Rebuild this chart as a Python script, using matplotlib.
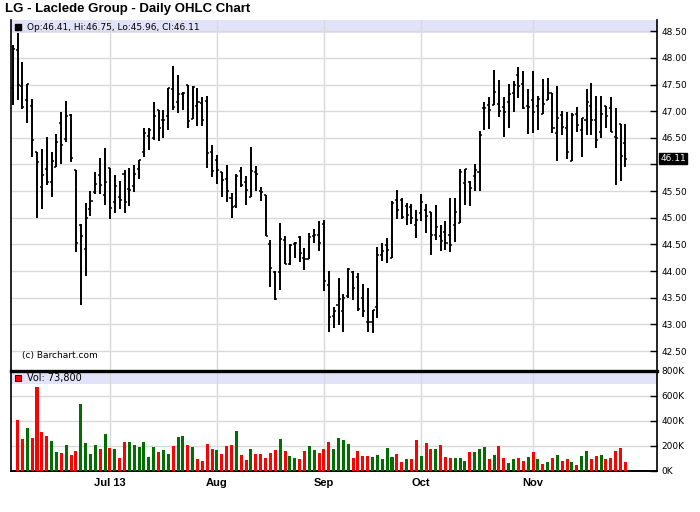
import numpy as np
import pandas as pd
import matplotlib
matplotlib.use("Agg")
import matplotlib.pyplot as plt

# trading days Jun 3 - Nov 29 2013 (NYSE holidays removed)
holidays = ["2013-07-04", "2013-09-02", "2013-11-28"]
dates = pd.bdate_range("2013-06-03", "2013-11-29")
dates = dates[~dates.isin(pd.to_datetime(holidays))]

opens = [47.44, 48.15, 47.48, 47.21, 47.10, 46.24, 45.58, 45.92, 45.68, 45.96,
         46.78, 46.48, 46.92, 45.89, 44.86, 44.42, 45.17, 45.49, 45.81, 45.43,
         45.94, 45.29, 45.39, 45.83, 45.54, 45.59, 45.91, 46.23, 46.54, 46.50,
         47.03, 46.84, 46.90, 47.41, 47.18, 47.33, 47.50, 46.86, 47.09, 47.16,
         47.20, 46.24, 46.08, 45.86, 45.72, 45.38, 45.23, 45.88, 45.67, 45.39,
         45.86, 45.50, 45.42, 44.51, 43.99, 43.98, 44.58, 44.14, 44.50, 44.63,
         44.25, 44.23, 44.65, 44.68, 44.88, 43.74, 43.16, 43.36, 43.26, 43.54,
         43.99, 43.89, 43.49, 43.04, 43.04, 43.32, 44.30, 44.49, 44.25, 45.34,
         45.34, 45.22, 45.21, 44.86, 45.08, 45.14, 45.11, 44.67, 44.66, 44.73,
         44.68, 44.86, 44.91, 45.66, 45.68, 45.79, 45.85, 47.06, 47.11, 47.11,
         47.13, 47.07, 47.17, 47.34, 47.68, 47.51, 47.10, 47.21, 47.10, 46.94,
         47.21, 47.34, 46.59, 46.93, 46.69, 46.06, 46.95, 46.65, 46.83, 47.09,
         46.83, 46.61, 47.10, 47.06, 46.52, 46.75, 46.41]
highs = [48.25, 48.47, 47.93, 47.51, 47.22, 46.24, 46.29, 46.51, 46.24, 46.58,
         46.98, 47.20, 46.95, 45.89, 44.89, 45.27, 45.50, 45.86, 46.13, 46.30,
         45.94, 45.81, 45.69, 45.89, 45.94, 45.99, 46.08, 46.68, 46.68, 47.17,
         47.03, 47.03, 47.44, 47.84, 47.68, 47.36, 47.50, 47.48, 47.44, 47.26,
         47.28, 46.36, 46.17, 45.86, 45.99, 45.46, 45.83, 45.95, 45.78, 46.33,
         45.97, 45.58, 45.42, 44.58, 44.00, 44.91, 44.66, 44.50, 44.55, 44.66,
         44.44, 44.71, 44.78, 44.93, 44.96, 44.01, 43.33, 43.87, 43.57, 44.06,
         44.01, 43.96, 43.76, 43.68, 43.27, 44.46, 44.52, 44.62, 45.31, 45.53,
         45.38, 45.27, 45.25, 45.14, 45.45, 45.25, 45.11, 45.24, 44.86, 44.93,
         45.37, 45.37, 45.91, 45.91, 45.69, 46.00, 46.63, 47.18, 47.26, 47.78,
         47.59, 47.26, 47.51, 47.57, 47.83, 47.76, 47.42, 47.76, 47.29, 47.61,
         47.63, 47.34, 47.48, 47.01, 46.99, 46.96, 47.08, 46.88, 47.41, 47.53,
         47.29, 47.28, 47.10, 47.26, 47.06, 46.76, 46.75]
lows = [47.11, 47.21, 47.04, 46.78, 46.14, 44.99, 45.16, 45.61, 45.39, 45.96,
        46.01, 46.42, 46.04, 44.36, 43.37, 43.91, 45.04, 45.44, 45.44, 45.24,
        44.98, 45.09, 45.16, 45.09, 45.22, 45.49, 45.73, 46.14, 46.28, 46.46,
        46.44, 46.50, 46.65, 47.03, 46.97, 47.03, 46.68, 46.86, 46.73, 46.73,
        45.94, 45.76, 45.63, 45.39, 45.29, 45.00, 45.19, 45.58, 45.24, 45.39,
        45.50, 45.31, 44.65, 43.71, 43.45, 43.65, 44.13, 44.11, 44.25, 44.17,
        44.02, 44.22, 44.53, 44.38, 43.63, 42.85, 42.93, 42.98, 42.86, 43.50,
        43.46, 43.25, 43.13, 42.86, 42.83, 43.11, 44.18, 44.16, 44.25, 44.97,
        44.98, 44.87, 44.89, 44.62, 44.93, 44.71, 44.31, 44.59, 44.38, 44.39,
        44.36, 44.54, 44.91, 45.24, 45.23, 45.51, 45.51, 46.64, 46.67, 47.11,
        46.89, 46.51, 46.69, 46.99, 47.24, 47.04, 46.58, 46.59, 46.64, 46.94,
        47.21, 46.59, 46.06, 46.56, 46.11, 46.06, 46.61, 46.14, 46.56, 46.56,
        46.30, 46.49, 46.69, 46.61, 45.61, 45.69, 45.96]
closes = [48.17, 47.49, 47.08, 47.51, 46.46, 46.05, 45.81, 45.68, 46.07, 46.43,
          46.37, 46.90, 46.13, 44.53, 44.66, 45.00, 45.32, 45.64, 45.62, 45.68,
          45.18, 45.60, 45.34, 45.30, 45.53, 45.83, 46.08, 46.59, 46.64, 46.91,
          46.68, 46.83, 47.44, 47.07, 47.33, 47.34, 46.81, 47.46, 47.18, 46.83,
          46.21, 45.87, 45.89, 45.71, 45.50, 45.21, 45.78, 45.62, 45.53, 45.88,
          45.82, 45.49, 44.65, 44.05, 43.48, 44.61, 44.13, 44.48, 44.52, 44.34,
          44.23, 44.64, 44.68, 44.52, 43.81, 43.13, 43.25, 43.47, 43.49, 44.04,
          43.68, 43.29, 43.26, 43.04, 43.27, 44.30, 44.37, 44.39, 45.27, 45.14,
          45.02, 45.05, 45.00, 44.95, 45.29, 45.03, 44.67, 44.83, 44.56, 44.52,
          44.48, 45.10, 45.86, 45.91, 45.55, 45.89, 46.56, 47.06, 47.02, 47.36,
          47.01, 46.98, 47.33, 47.50, 47.47, 47.06, 47.08, 46.99, 47.23, 47.13,
          47.35, 46.68, 46.87, 46.70, 46.24, 46.92, 46.74, 46.88, 47.18, 46.83,
          46.46, 46.94, 46.90, 46.61, 46.49, 46.16, 46.11]
# volume in thousands; first day has no volume bar on the chart
volume_k = [np.nan,
            408, 256, 344, 264, 675, 315, 280, 243, 152, 144,
            208, 128, 160, 536, 224, 136, 208, 176, 296, 184,
            176, 104, 232, 232, 208, 192, 232, 112, 192, 152,
            168, 136, 200, 272, 280, 208, 192, 96, 80, 216,
            176, 168, 136, 200, 208, 320, 128, 88, 176, 136,
            136, 104, 144, 168, 256, 160, 120, 104, 96, 160,
            200, 168, 144, 176, 232, 176, 264, 248, 216,
            104, 160, 120, 120, 112, 128, 96, 184, 112, 136,
            72, 96, 96, 248, 120, 224, 176, 176, 208, 112,
            104, 104, 104, 80, 152, 152, 176, 192, 96, 128,
            200, 104, 64, 96, 104, 80, 112, 152, 96, 56,
            72, 104, 128, 80, 96, 72, 48, 120, 160, 96,
            120, 128, 96, 104, 160, 184, 73.8]

x = np.arange(len(dates))
vol = np.array(volume_k) * 1000
cl = np.array(closes)
vol_colors = ['#006e00'] + ['#ff0000' if cl[i] < cl[i - 1] else '#006e00' for i in range(1, len(cl))]

months = pd.Series(dates.month)
month_idx = list(np.where(months.diff().fillna(1) != 0)[0])[1:]
month_labels = [dates[i].strftime('%b') for i in month_idx]
month_labels[0] = dates[month_idx[0]].strftime('%b %y')

grid_c = '#d9d9d9'
band_c = '#e2e2f9'
small = dict(family='DejaVu Sans', fontsize=6.5)

fig = plt.figure(figsize=(7, 5.12), dpi=100)
ax1 = fig.add_axes([0.015, 0.2754, 0.9236, 0.6855])
ax2 = fig.add_axes([0.015, 0.0801, 0.9236, 0.1953], sharex=ax1)

# price panel
ax1.axhspan(48.46, 48.75, color=band_c, zorder=0.2, lw=0)
ax1.vlines(x, lows, highs, color='black', lw=1.4, zorder=3)
ax1.hlines(opens, x - 0.42, x, color='black', lw=1.1, zorder=3)
ax1.hlines(closes, x, x + 0.42, color='black', lw=1.1, zorder=3)
ax1.set_xlim(-0.45, 132.5)
ax1.set_ylim(42.125, 48.71)
yt = np.arange(42.5, 48.51, 0.5)
ax1.set_yticks(yt)
ax1.set_yticklabels(['' if abs(v - closes[-1]) < 0.15 else f'{v:.2f}' for v in yt], **small)
ax1.yaxis.tick_right()
ax1.tick_params(axis='y', direction='in', length=5, pad=3, width=1)
ax1.set_xticks(month_idx)
ax1.tick_params(axis='x', length=0, labelbottom=False)
ax1.grid(color=grid_c, lw=1)
ax1.set_axisbelow(True)
ax1.spines['top'].set_visible(False)
ax1.spines['bottom'].set_visible(False)
for s in ['left', 'right']:
    ax1.spines[s].set_linewidth(1.2)

ax1.text(1.005, closes[-1], f'{closes[-1]:.2f}', transform=ax1.get_yaxis_transform(),
         color='white', va='center', ha='left',
         bbox=dict(boxstyle='square,pad=0.12', fc='black', ec='black'), **small)
ax1.plot([0.0116], [0.98], marker='s', ms=5, color='black', transform=ax1.transAxes, clip_on=False)
ax1.text(0.0255, 0.98, f'Op:{opens[-1]:.2f}, Hi:{highs[-1]:.2f}, Lo:{lows[-1]:.2f}, Cl:{closes[-1]:.2f}',
         transform=ax1.transAxes, va='center', ha='left', **small)
ax1.text(0.0178, 0.043, '(c) Barchart.com', transform=ax1.transAxes, va='center', ha='left', **small)

# volume panel
ax2.axhspan(696000, 800000, color=band_c, zorder=0.2, lw=0)
ax2.bar(x, vol, width=0.62, color=vol_colors, zorder=3)
ax2.set_ylim(0, 800000)
vt = np.arange(0, 800001, 200000)
ax2.set_yticks(vt)
ax2.set_yticklabels([f'{int(v / 1000)}K' for v in vt], **small)
ax2.yaxis.tick_right()
ax2.tick_params(axis='y', direction='in', length=5, pad=3, width=1)
ax2.set_xticks(month_idx)
ax2.set_xticklabels(month_labels, family='Liberation Sans', fontsize=8, fontweight='bold')
ax2.tick_params(axis='x', length=0, pad=5)
ax2.grid(color=grid_c, lw=1)
ax2.set_axisbelow(True)
ax2.spines['top'].set_linewidth(2.4)
ax2.spines['bottom'].set_linewidth(1.4)
for s in ['left', 'right']:
    ax2.spines[s].set_linewidth(1.2)
ax2.plot([0.0116], [0.93], marker='s', ms=5, color='#ff0000', mec='black', mew=0.6,
         transform=ax2.transAxes, clip_on=False)
ax2.text(0.0255, 0.93, f'Vol: {volume_k[-1] * 1000:,.0f}', transform=ax2.transAxes,
         va='center', ha='left', family='DejaVu Sans', fontsize=7)

fig.text(0.007, 1 - 9 / 512, 'LG - Laclede Group - Daily OHLC Chart', family='Liberation Sans',
         fontsize=9.5, fontweight='bold', va='center', ha='left')

fig.savefig('out.png', dpi=100, facecolor='white')
